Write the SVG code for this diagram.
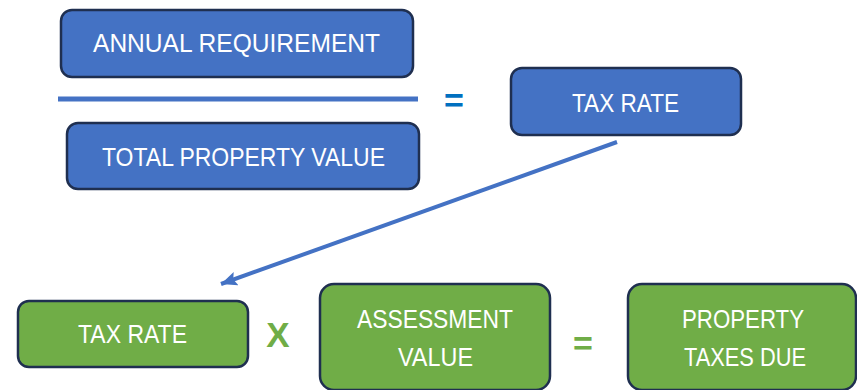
<svg xmlns="http://www.w3.org/2000/svg" width="857" height="390" viewBox="0 0 857 390">
<style>
.blue{fill:#4472C4;stroke:#1F2F50;stroke-width:2.5}
.green{fill:#70AD47;stroke:#1F2F50;stroke-width:2.5}
.t{font-family:"Liberation Sans",Arial,sans-serif;font-size:26px;fill:#FFFFFF;text-anchor:middle}
.op{font-family:"Liberation Sans",Arial,sans-serif;font-weight:bold;text-anchor:middle}
</style>
<defs>
<marker id="ah" markerWidth="17" markerHeight="14" refX="16" refY="7" orient="auto" markerUnits="userSpaceOnUse" viewBox="0 0 17 14">
<path d="M0,0 L16,7 L0,14 L3,7 Z" fill="#4472C4"/>
</marker>
</defs>
<rect width="857" height="390" fill="#FFFFFF"/>
<g id="annual-requirement">
<rect class="blue" x="61" y="10" width="352" height="67" rx="11"/>
<text class="t" x="236.5" y="52" textLength="287" lengthAdjust="spacingAndGlyphs">ANNUAL REQUIREMENT</text>
</g>
<g id="fraction-bar">
<line x1="58" y1="99" x2="418" y2="99" stroke="#4472C4" stroke-width="5"/>
</g>
<g id="total-property-value">
<rect class="blue" x="67" y="123" width="352" height="66" rx="11"/>
<text class="t" x="243.5" y="166" textLength="283" lengthAdjust="spacingAndGlyphs">TOTAL PROPERTY VALUE</text>
</g>
<g id="equals-blue">
<text class="op" x="454" y="112" font-size="34" fill="#0070C0">=</text>
</g>
<g id="tax-rate-blue">
<rect class="blue" x="511" y="68" width="230" height="67" rx="11"/>
<text class="t" x="625.5" y="112" textLength="107" lengthAdjust="spacingAndGlyphs">TAX RATE</text>
</g>
<g id="connectors">
<line x1="617" y1="142" x2="221" y2="284" stroke="#4472C4" stroke-width="4" marker-end="url(#ah)"/>
</g>
<g id="tax-rate-green">
<rect class="green" x="18" y="301" width="230" height="66" rx="11"/>
<text class="t" x="132.5" y="343" textLength="109" lengthAdjust="spacingAndGlyphs">TAX RATE</text>
</g>
<g id="times">
<text class="op" x="278" y="347" font-size="35" fill="#70AD47">X</text>
</g>
<g id="assessment-value">
<rect class="green" x="320" y="284" width="230" height="106" rx="14"/>
<text class="t" x="435" y="328" textLength="156" lengthAdjust="spacingAndGlyphs">ASSESSMENT</text>
<text class="t" x="435.5" y="366" textLength="75" lengthAdjust="spacingAndGlyphs">VALUE</text>
</g>
<g id="equals-green">
<text class="op" x="583" y="355" font-size="34" fill="#70AD47">=</text>
</g>
<g id="property-taxes-due">
<rect class="green" x="628" y="284" width="228" height="106" rx="14"/>
<text class="t" x="743" y="328" textLength="122" lengthAdjust="spacingAndGlyphs">PROPERTY</text>
<text class="t" x="745" y="366" textLength="122" lengthAdjust="spacingAndGlyphs">TAXES DUE</text>
</g>
</svg>
